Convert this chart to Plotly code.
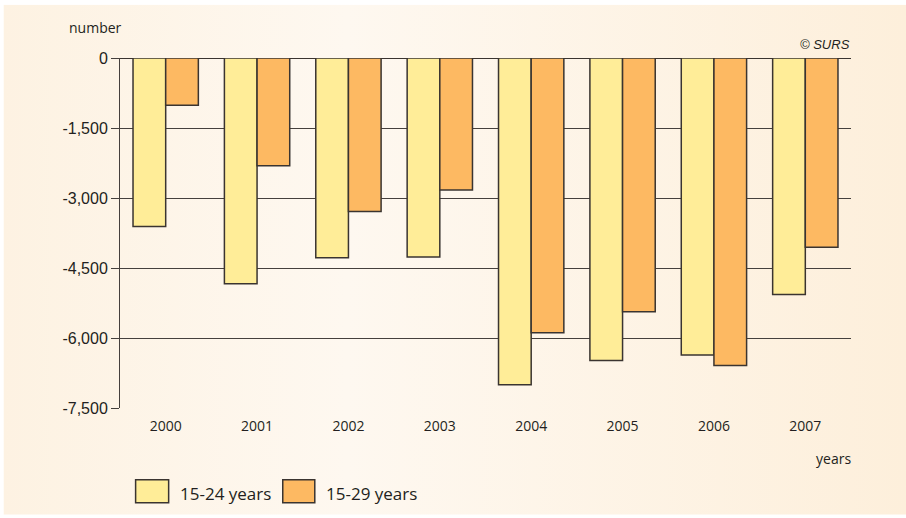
import base64
import plotly.graph_objects as go

# Net migration balance by age group, 2000-2007
years = ["2000", "2001", "2002", "2003", "2004", "2005", "2006", "2007"]
age_15_24 = [-3610, -4840, -4280, -4265, -7000, -6480, -6365, -5070]
age_15_29 = [-1015, -2310, -3290, -2830, -5890, -5435, -6590, -4055]
series_names = ["15-24 years", "15-29 years"]
y_ticks = [0, -1500, -3000, -4500, -6000, -7500]

W, H = 906, 518
L, R, T, B = 120.4, 55.3, 58.3, 109.7
PW, PH = W - L - R, H - T - B

YELLOW = "#FFED98"
ORANGE = "#FDB962"
EDGE = "#3a3430"
TEXT = "#231f20"


def px_x(x):
    return (x - L) / PW


def px_y(y):
    return (H - B - y) / PH


fig = go.Figure()
for name, vals, col in [(series_names[0], age_15_24, YELLOW),
                        (series_names[1], age_15_29, ORANGE)]:
    fig.add_trace(go.Bar(
        x=years, y=vals, name=name,
        marker=dict(color=col, line=dict(color=EDGE, width=1.5)),
        showlegend=False,
    ))

# soft horizontal gradient behind the whole chart
svg = (
    '<svg xmlns="http://www.w3.org/2000/svg" width="100" height="100" preserveAspectRatio="none">'
    '<defs><linearGradient id="g" x1="0" y1="0" x2="1" y2="0">'
    '<stop offset="0" stop-color="#fdf2e2"/>'
    '<stop offset="0.38" stop-color="#fef8f0"/>'
    '<stop offset="1" stop-color="#fdefdb"/>'
    '</linearGradient></defs>'
    '<rect width="100" height="100" fill="url(#g)"/></svg>'
)
src = "data:image/svg+xml;base64," + base64.b64encode(svg.encode()).decode()
bx0, by0, bx1, by1 = 4, 5, 906, 515
fig.add_layout_image(
    source=src, xref="paper", yref="paper",
    x=px_x(bx0), y=px_y(by0),
    sizex=(bx1 - bx0) / PW, sizey=(by1 - by0) / PH,
    xanchor="left", yanchor="top", sizing="stretch", layer="below",
)

fig.update_layout(
    width=W, height=H,
    margin=dict(l=L, r=R, t=T, b=B, pad=0),
    paper_bgcolor="white",
    plot_bgcolor="rgba(0,0,0,0)",
    barmode="group", bargap=0.285, bargroupgap=0,
    font=dict(family="Open Sans", color=TEXT),
)

fig.update_xaxes(
    type="category", range=[-0.5, len(years) - 0.5],
    showgrid=False, zeroline=False, showline=False,
    ticks="outside", ticklen=5, tickcolor="rgba(0,0,0,0)",
    tickfont=dict(family="Open Sans", size=14, color=TEXT),
)
fig.update_yaxes(
    range=[-7500, 0], tickvals=y_ticks,
    ticktext=[f"{v:,}" for v in y_ticks],
    showgrid=True, gridcolor="#45403d", gridwidth=1,
    zeroline=True, zerolinecolor="#3a3430", zerolinewidth=1,
    showline=True, linecolor="#45403d", linewidth=1,
    ticks="outside", ticklen=8, tickcolor="#45403d", tickwidth=1,
    tickfont=dict(family="Liberation Sans", size=16, color=TEXT),
)

annotations = [
    dict(text="number", x=px_x(67), y=px_y(28), xanchor="left", yanchor="middle",
         font=dict(family="Open Sans", size=14, color=TEXT)),
    dict(text="<i>© SURS</i>", x=px_x(852), y=px_y(45), xanchor="right", yanchor="middle",
         font=dict(family="Liberation Sans", size=13, color=TEXT)),
    dict(text="years", x=px_x(853), y=px_y(459), xanchor="right", yanchor="middle",
         font=dict(family="Open Sans", size=14, color=TEXT)),
    dict(text=series_names[0], x=px_x(178), y=px_y(494), xanchor="left", yanchor="middle",
         font=dict(family="Open Sans", size=17, color=TEXT)),
    dict(text=series_names[1], x=px_x(324), y=px_y(494), xanchor="left", yanchor="middle",
         font=dict(family="Open Sans", size=17, color=TEXT)),
]
for a in annotations:
    a.update(xref="paper", yref="paper", showarrow=False)
fig.update_layout(annotations=annotations)

# legend swatches
for x0, x1, col in [(136, 169, YELLOW), (283, 315, ORANGE)]:
    fig.add_shape(type="rect", xref="paper", yref="paper",
                  x0=px_x(x0), x1=px_x(x1), y0=px_y(480), y1=px_y(503),
                  fillcolor=col, line=dict(color=EDGE, width=1.5))

fig.write_html("out.html")
